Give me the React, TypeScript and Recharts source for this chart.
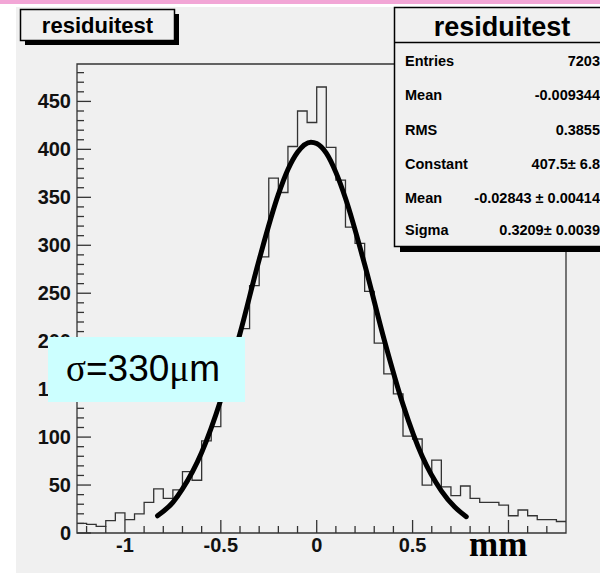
import React from 'react';
import { ComposedChart, Line, XAxis, YAxis, ReferenceArea } from 'recharts';

// histogram: left edge of each 0.05 mm bin, and the counts
const binEdges = [
  -1.25, -1.2, -1.15, -1.1, -1.05, -1.0, -0.95, -0.9, -0.85, -0.8,
  -0.75, -0.7, -0.65, -0.6, -0.55, -0.5, -0.45, -0.4, -0.35, -0.3,
  -0.25, -0.2, -0.15, -0.1, -0.05, 0.0, 0.05, 0.1, 0.15, 0.2,
  0.25, 0.3, 0.35, 0.4, 0.45, 0.5, 0.55, 0.6, 0.65, 0.7,
  0.75, 0.8, 0.85, 0.9, 0.95, 1.0, 1.05, 1.1, 1.15, 1.2, 1.25,
];
const binCounts = [
  10, 9, 7, 13, 21, 14, 20, 32, 46, 36,
  45, 64, 55, 96, 111, 150, 185, 213, 258, 288,
  370, 355, 403, 440, 428, 465, 402, 368, 319, 302,
  252, 198, 166, 145, 101, 98, 50, 76, 48, 39,
  49, 36, 32, 32, 29, 18, 24, 18, 14, 14, 12,
];
const histEnd = 1.3;

// fitted gaussian, points
const fitX = [-0.83, -0.75, -0.7, -0.6, -0.5, -0.4, -0.3, -0.2, -0.15, -0.1, -0.03, 0.0, 0.05, 0.1, 0.15, 0.25, 0.35, 0.45, 0.55, 0.65, 0.72, 0.78];
const fitY = [18, 32, 46, 84, 139, 208, 285, 353, 379, 397, 407.5, 406, 396, 376, 349, 280, 203, 134, 80, 44, 27, 17];

const xTicks = [-1.2, -1.1, -1, -0.9, -0.8, -0.7, -0.6, -0.5, -0.4, -0.3, -0.2, -0.1, 0, 0.1, 0.2, 0.3, 0.4, 0.5, 0.6, 0.7, 0.8, 0.9, 1, 1.1, 1.2];
const xLabels = [-1, -0.5, 0, 0.5];
const yTicks = Array.from({ length: 49 }, (_, i) => i * 10);
const yLabels = [0, 50, 100, 150, 200, 250, 300, 350, 400, 450];

const statRows = [
  ['Entries', '7203'],
  ['Mean', '-0.009344'],
  ['RMS', '0.3855'],
  ['Constant', '407.5\u00b1 6.8'],
  ['Mean', '-0.02843 \u00b1 0.00414'],
  ['Sigma', '0.3209\u00b1 0.0039'],
];

const FONT = '"Liberation Sans", Arial, Helvetica, sans-serif';
const SERIF = '"Liberation Serif", "Times New Roman", serif';
const AX = '#333';

const histData = [
  ...binEdges.map((x, i) => ({ x, h: binCounts[i] })),
  { x: histEnd, h: binCounts[binCounts.length - 1] },
];
const fitData = fitX.map((x, i) => ({ x, f: fitY[i] }));

const isMajor = (v: number, step: number) => Math.abs(v / step - Math.round(v / step)) < 1e-6;

const XTick = (props: any) => {
  const { x, y, payload } = props;
  const v = payload.value;
  const major = isMajor(v, 0.5);
  const showLabel = xLabels.some((l) => Math.abs(l - v) < 1e-6);
  return (
    <g>
      <line x1={x} x2={x} y1={y} y2={y - (major ? 13 : 7)} stroke={AX} strokeWidth={1.3} />
      {showLabel && (
        <text x={x} y={y + 19} textAnchor="middle" fontSize={20} fontWeight="bold" fontFamily={FONT} fill="#111">
          {v}
        </text>
      )}
    </g>
  );
};

const YTick = (props: any) => {
  const { x, y, payload } = props;
  const v = payload.value;
  const major = isMajor(v, 50);
  const showLabel = yLabels.includes(v);
  return (
    <g>
      <line x1={x} x2={x + (major ? 14 : 7)} y1={y} y2={y} stroke={AX} strokeWidth={1.3} />
      {showLabel && (
        <text x={x - 6} y={y + 7} textAnchor="end" fontSize={20} fontWeight="bold" fontFamily={FONT} fill="#111">
          {v}
        </text>
      )}
    </g>
  );
};

const Overlay = () => (
  <svg width={600} height={573} style={{ position: 'absolute', left: 0, top: 0 }} fontFamily={FONT}>
    {/* title box */}
    <rect x={25} y={14} width={154} height={31} fill="#000" />
    <rect x={20.5} y={9.5} width={154} height={31} fill="#f0f0f0" stroke="#000" strokeWidth={1.5} />
    <text x={97.5} y={33} textAnchor="middle" fontSize={22} fontWeight="bold" fill="#000">
      residuitest
    </text>

    {/* stats box */}
    <rect x={400} y={246} width={215} height={6} fill="#000" />
    <rect x={394.5} y={7.5} width={220} height={239} fill="#f0f0f0" stroke="#000" strokeWidth={1.5} />
    <line x1={394.5} x2={615} y1={42.5} y2={42.5} stroke="#000" strokeWidth={1.5} />
    <text x={502} y={36} textAnchor="middle" fontSize={27} fontWeight="bold" fill="#000">
      residuitest
    </text>
    {statRows.map(([label, value], i) => {
      const base = [66, 100, 135, 169, 203, 235][i];
      return (
        <g key={i}>
          <text x={405} y={base} fontSize={14.5} fontWeight="bold" fill="#000">{label}</text>
          <text x={600} y={base} textAnchor="end" fontSize={14.5} fontWeight="bold" fill="#000">{value}</text>
        </g>
      );
    })}

    {/* sigma annotation */}
    <rect x={48} y={337} width={197} height={65} fill="#ccffff" />
    <text x={66} y={381} fontSize={37} fill="#000">
      <tspan fontFamily={SERIF}>σ</tspan>=330<tspan fontFamily={SERIF}>μ</tspan>m
    </text>

    {/* axis unit */}
    <text x={469} y={556} fontSize={35} fontWeight="bold" fontFamily={SERIF} fill="#000">
      mm
    </text>
  </svg>
);

export default function App() {
  return (
    <div style={{ position: 'absolute', left: 0, top: 0, width: 600, height: 573, background: '#fff', overflow: 'hidden' }}>
      <div style={{ position: 'absolute', left: 0, top: 0, width: 600, height: 4, background: '#f2a6d6' }} />
      <div style={{ position: 'absolute', left: 16, top: 7, width: 584, height: 566, background: '#f0f0f0' }} />
      <div style={{ position: 'absolute', left: 0, top: 0 }}>
        <ComposedChart width={600} height={573} margin={{ top: 64, right: 34, bottom: 10, left: 0 }}>
          <XAxis
            dataKey="x"
            type="number"
            domain={[-1.25, 1.3]}
            allowDataOverflow
            ticks={xTicks}
            interval={0}
            tick={<XTick />}
            tickLine={false}
            axisLine={false}
            tickSize={0}
            tickMargin={0}
            height={30}
          />
          <YAxis
            type="number"
            domain={[0, 489]}
            allowDataOverflow
            ticks={yTicks}
            interval={0}
            tick={<YTick />}
            tickLine={false}
            axisLine={false}
            tickSize={0}
            tickMargin={0}
            width={77}
          />
          <ReferenceArea x1={-1.25} x2={1.3} y1={0} y2={489} fill="none" fillOpacity={0} stroke={AX} strokeWidth={1.3} />
          <Line
            data={histData}
            dataKey="h"
            type="stepAfter"
            stroke="#333"
            strokeWidth={1.3}
            dot={false}
            activeDot={false}
            isAnimationActive={false}
          />
          <Line
            data={fitData}
            dataKey="f"
            type="monotone"
            stroke="#000"
            strokeWidth={5}
            strokeLinecap="round"
            dot={false}
            activeDot={false}
            isAnimationActive={false}
          />
        </ComposedChart>
      </div>
      <Overlay />
    </div>
  );
}
